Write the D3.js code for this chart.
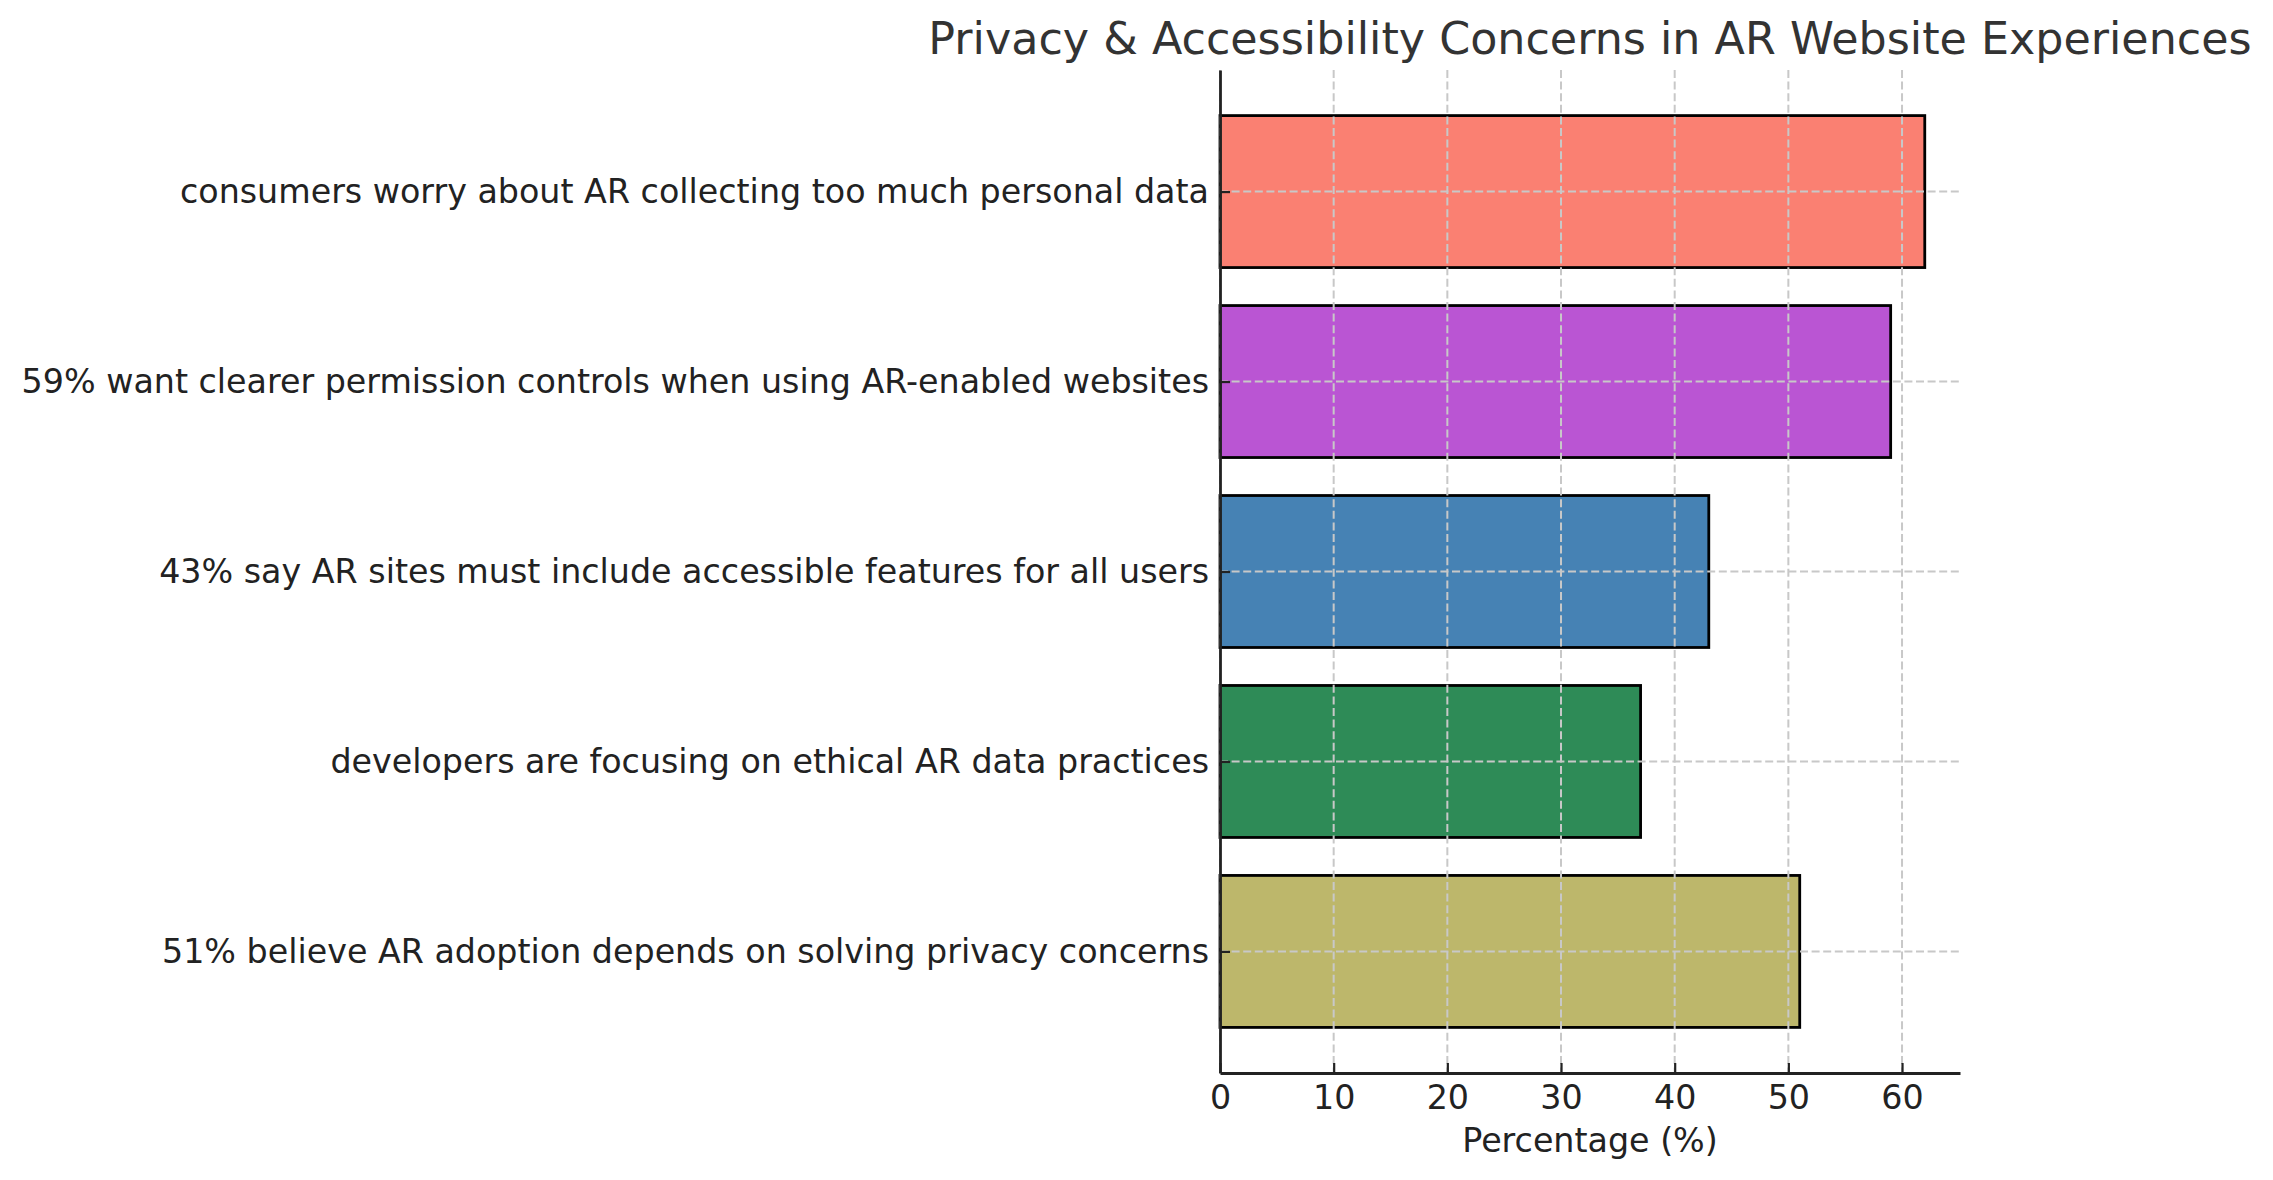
<!DOCTYPE html>
<html>
<head>
<meta charset="utf-8">
<script src="https://cdn.jsdelivr.net/npm/d3@7"></script>
<style>
  html, body { margin: 0; padding: 0; background: #ffffff; }
  svg { display: block; font-family: "DejaVu Sans", sans-serif; }
</style>
</head>
<body>
<svg id="chart" width="2273" height="1180"></svg>
<script>
// Data (top to bottom as shown)
const categories = [
  "consumers worry about AR collecting too much personal data",
  "59% want clearer permission controls when using AR-enabled websites",
  "43% say AR sites must include accessible features for all users",
  "developers are focusing on ethical AR data practices",
  "51% believe AR adoption depends on solving privacy concerns"
];
const values = [62, 59, 43, 37, 51];
const colors = ["#FA8072", "#BA55D3", "#4682B4", "#2E8B57", "#BDB76B"];
const xTicks = [0, 10, 20, 30, 40, 50, 60];
const titleText = "Privacy & Accessibility Concerns in AR Website Experiences";
const xLabel = "Percentage (%)";

(function () {
const svg = d3.select("#chart");
const mLeft = 1220, mRight = 1960, mTop = 70, mBottom = 1073;

const x = d3.scaleLinear().domain([0, 65.1]).range([mLeft, mRight]);
const n = categories.length;
const y = d3.scaleLinear().domain([-0.64, n - 1 + 0.64]).range([mBottom, mTop]);
const barH = 0.8;
const pos = (i) => n - 1 - i;

// Bars
svg.append("g").selectAll("rect")
  .data(values)
  .join("rect")
  .attr("x", x(0))
  .attr("y", (d, i) => y(pos(i) + barH / 2))
  .attr("width", d => x(d) - x(0))
  .attr("height", (d, i) => y(pos(i) - barH / 2) - y(pos(i) + barH / 2))
  .attr("fill", (d, i) => colors[i])
  .attr("stroke", "#000")
  .attr("stroke-width", 2.8);

// Grid (drawn above bars)
const grid = svg.append("g");
grid.selectAll("line.vx")
  .data(xTicks)
  .join("line")
  .attr("x1", d => x(d)).attr("x2", d => x(d))
  .attr("y1", mTop).attr("y2", mBottom)
  .attr("stroke", "#c8c8c8").attr("stroke-width", 2)
  .attr("stroke-dasharray", "8,3.6");
grid.selectAll("line.hy")
  .data(categories)
  .join("line")
  .attr("x1", mLeft).attr("x2", mRight)
  .attr("y1", (d, i) => y(pos(i))).attr("y2", (d, i) => y(pos(i)))
  .attr("stroke", "#c8c8c8").attr("stroke-width", 2)
  .attr("stroke-dasharray", "8,3.6");

// X axis
const xAxis = d3.axisBottom(x).tickValues(xTicks).tickSizeInner(-10).tickSizeOuter(0).tickPadding(12);
const gx = svg.append("g").attr("transform", `translate(0,${mBottom})`).call(xAxis);
gx.select(".domain").attr("stroke", "#222").attr("stroke-width", 2.8);
gx.selectAll(".tick line").attr("stroke", "#222").attr("stroke-width", 2.2);
gx.selectAll(".tick text").attr("fill", "#222").attr("font-size", "33.3px")
  .attr("font-family", "DejaVu Sans");

// Y axis
const yAxis = d3.axisLeft(y).tickValues(d3.range(n)).tickFormat(p => categories[n - 1 - p])
  .tickSizeInner(-10).tickSizeOuter(0).tickPadding(11);
const gy = svg.append("g").attr("transform", `translate(${mLeft},0)`).call(yAxis);
gy.select(".domain").attr("stroke", "#222").attr("stroke-width", 2.8);
gy.selectAll(".tick line").attr("stroke", "#222").attr("stroke-width", 2.2);
gy.selectAll(".tick text").attr("fill", "#222").attr("font-size", "33.3px")
  .attr("font-family", "DejaVu Sans");

// Title
svg.append("text")
  .attr("x", (mLeft + mRight) / 2).attr("y", 54)
  .attr("text-anchor", "middle")
  .attr("font-size", "44.4px")
  .attr("fill", "#333")
  .text(titleText);

// X label
svg.append("text")
  .attr("x", (mLeft + mRight) / 2).attr("y", 1152)
  .attr("text-anchor", "middle")
  .attr("font-size", "33.3px")
  .attr("fill", "#222")
  .text(xLabel);
})();
</script>
</body>
</html>
